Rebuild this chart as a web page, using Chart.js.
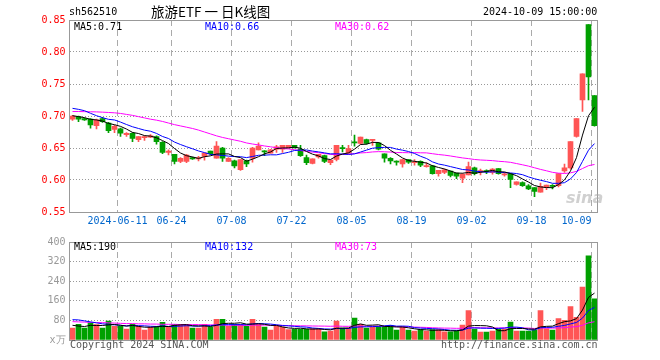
<!DOCTYPE html>
<html><head><meta charset="utf-8">
<script src="https://cdn.jsdelivr.net/npm/chart.js@4.4.1/dist/chart.umd.min.js"></script>
<style>
html,body{margin:0;padding:0;background:#fff;}
#wrap{position:relative;width:660px;height:360px;overflow:hidden;background:#fff;}
canvas{position:absolute;left:0;}
.t{position:absolute;font-family:'DejaVu Sans Mono',monospace;font-size:10px;line-height:12px;white-space:pre;}
</style></head><body>
<div id="wrap">
<canvas id="pc" width="660" height="232" style="top:0"></canvas>
<canvas id="vc" width="660" height="128" style="top:232px"></canvas>
<span class="t" style="left:69px;top:6px;color:#000">sh562510</span>
<span class="t" style="left:151px;top:3px;font-family:'Noto Sans CJK SC',sans-serif;font-size:13.5px;line-height:17px;color:#000">旅游ETF 一 日K线图</span>
<span class="t" style="left:483px;top:6px;color:#000">2024-10-09 15:00:00</span>
<span class="t" id="l1" style="left:74px;top:21px;color:#000"></span>
<span class="t" id="l2" style="left:205px;top:21px;color:#0000ff"></span>
<span class="t" id="l3" style="left:335px;top:21px;color:#ff00ff"></span>
<span class="t" id="v1" style="left:74px;top:241px;color:#000"></span>
<span class="t" id="v2" style="left:205px;top:241px;color:#0000ff"></span>
<span class="t" id="v3" style="left:335px;top:241px;color:#ff00ff"></span>
<span class="t" style="left:566px;top:189px;font-family:'DejaVu Sans',sans-serif;font-style:italic;font-weight:bold;font-size:16px;line-height:18px;color:rgba(170,170,170,0.55)">sina</span>
<span class="t" style="left:70px;top:339px;color:#555">Copyright 2024 SINA.COM</span>
<span class="t" style="left:441px;top:339px;color:#555">http://finance.sina.com.cn</span>
</div>
<script>
const dates=['2024-05-29','2024-05-30','2024-05-31','2024-06-03','2024-06-04','2024-06-05','2024-06-06','2024-06-07','2024-06-11','2024-06-12','2024-06-13','2024-06-14','2024-06-17','2024-06-18','2024-06-19','2024-06-20','2024-06-21','2024-06-24','2024-06-25','2024-06-26','2024-06-27','2024-06-28','2024-07-01','2024-07-02','2024-07-03','2024-07-04','2024-07-05','2024-07-08','2024-07-09','2024-07-10','2024-07-11','2024-07-12','2024-07-15','2024-07-16','2024-07-17','2024-07-18','2024-07-19','2024-07-22','2024-07-23','2024-07-24','2024-07-25','2024-07-26','2024-07-29','2024-07-30','2024-07-31','2024-08-01','2024-08-02','2024-08-05','2024-08-06','2024-08-07','2024-08-08','2024-08-09','2024-08-12','2024-08-13','2024-08-14','2024-08-15','2024-08-16','2024-08-19','2024-08-20','2024-08-21','2024-08-22','2024-08-23','2024-08-26','2024-08-27','2024-08-28','2024-08-29','2024-08-30','2024-09-02','2024-09-03','2024-09-04','2024-09-05','2024-09-06','2024-09-09','2024-09-10','2024-09-11','2024-09-12','2024-09-13','2024-09-18','2024-09-19','2024-09-20','2024-09-23','2024-09-24','2024-09-25','2024-09-26','2024-09-27','2024-09-30','2024-10-08','2024-10-09'];
const open=[.695,.699,.696,.695,.685,.696,.689,.679,.680,.671,.673,.663,.666,.667,.668,.659,.643,.640,.629,.629,.635,.633,.637,.645,.634,.650,.629,.630,.616,.630,.634,.647,.645,.642,.648,.648,.650,.654,.648,.635,.626,.636,.638,.627,.632,.650,.642,.659,.657,.663,.662,.658,.641,.634,.629,.625,.632,.627,.629,.621,.622,.610,.612,.614,.611,.603,.608,.619,.613,.614,.612,.618,.608,.610,.593,.596,.591,.588,.581,.588,.591,.591,.614,.619,.668,.725,.843,.732];
const high=[.701,.700,.697,.696,.695,.698,.690,.686,.681,.674,.674,.668,.669,.671,.669,.660,.647,.640,.635,.640,.636,.637,.642,.645,.660,.651,.635,.631,.632,.631,.651,.658,.646,.648,.654,.654,.654,.654,.654,.639,.633,.640,.639,.631,.654,.654,.654,.670,.667,.664,.663,.659,.641,.635,.630,.632,.632,.632,.630,.627,.623,.615,.617,.614,.611,.610,.628,.620,.617,.616,.618,.618,.612,.610,.597,.597,.593,.588,.595,.592,.593,.610,.625,.660,.696,.766,.843,.732];
const low=[.693,.691,.693,.681,.680,.690,.674,.674,.668,.668,.660,.660,.662,.666,.656,.641,.639,.625,.627,.627,.632,.630,.631,.639,.634,.629,.629,.619,.615,.621,.628,.647,.638,.642,.643,.643,.650,.650,.637,.624,.625,.634,.627,.624,.630,.644,.642,.653,.656,.656,.654,.647,.628,.625,.623,.620,.626,.623,.621,.620,.609,.606,.610,.605,.602,.596,.608,.608,.608,.610,.609,.609,.606,.588,.592,.590,.585,.574,.581,.585,.586,.589,.612,.617,.667,.707,.725,.684];
const close=[.700,.695,.694,.686,.694,.691,.677,.684,.673,.673,.665,.668,.668,.669,.660,.643,.645,.629,.634,.639,.633,.634,.642,.641,.653,.634,.634,.622,.632,.625,.650,.653,.644,.647,.652,.654,.654,.650,.638,.627,.633,.640,.629,.631,.654,.649,.649,.658,.667,.657,.663,.648,.634,.630,.628,.632,.628,.628,.623,.622,.610,.615,.616,.607,.606,.609,.621,.610,.614,.613,.617,.610,.609,.601,.597,.591,.586,.582,.590,.592,.590,.610,.619,.660,.696,.766,.761,.685];
const volume=[49,64,49,71,63,49,77,56,56,45,64,56,41,53,56,72,53,64,64,61,49,49,64,53,84,84,56,64,64,56,84,64,53,41,56,53,43,44,44,44,47,47,33,36,77,49,49,89,64,49,53,56,56,60,40,53,40,36,43,36,43,43,33,33,36,61,120,45,32,32,36,45,45,73,36,36,36,40,120,47,40,87,80,136,93,216,344,168];
// moving-average values for bars before a full window exists
const ma5Head=[.7005,.699,.6974,.6948];
const ma10Head=[.712,.7104,.7083,.7042,.7005,.6974,.6948,.6938,.6905];
const ma30Head=[.707,.707,.7068,.7066,.7064,.706,.7055,.705,.704,.7025,.701,.699,.697,.695,.6935,.6915,.689,.6865,.6845,.6825,.6805,.678,.675,.672,.669,.6665,.6645,.6625,.6605];
const vma5Head=[60,57,55,60];
const vma10Head=[83,82,78,74,70,66,64,62,60];
const vma30Head=[75,74,73,72,71,71,70,69,68,67,67,66,66,65,65,64,64,64,63,63,63,63,62,62,61,61,60,60,60];
const tickIndex=[8,17,27,37,47,57,67,77,87];
const tickLabels=['2024-06-11','06-24','07-08','07-22','08-05','08-19','09-02','09-18','10-09'];
const priceLegend=['MA5:0.71','MA10:0.66','MA30:0.62'];
const volLegend=['MA5:190','MA10:132','MA30:73'];

document.getElementById('l1').textContent=priceLegend[0];
document.getElementById('l2').textContent=priceLegend[1];
document.getElementById('l3').textContent=priceLegend[2];
document.getElementById('v1').textContent=volLegend[0];
document.getElementById('v2').textContent=volLegend[1];
document.getElementById('v3').textContent=volLegend[2];

function ma(src,n,head){return src.map((_,i)=>i<n-1?head[i]:src.slice(i-n+1,i+1).reduce((a,b)=>a+b,0)/n);}
const RED='#ff5555', GREEN='#00a000';
const colors=close.map((c,i)=>c>=open[i]?RED:GREEN);
const tickMap={}; tickIndex.forEach((k,j)=>tickMap[k]=tickLabels[j]);

Chart.defaults.font.family="'DejaVu Sans Mono', monospace";
Chart.defaults.font.size=10;

const frame={id:'frame',afterDraw(chart){const {ctx,chartArea:a}=chart;ctx.save();ctx.strokeStyle='#999';ctx.lineWidth=1;ctx.setLineDash([]);ctx.strokeRect(Math.floor(a.left)+0.5,Math.floor(a.top)+0.5,Math.round(a.right-a.left),Math.round(a.bottom-a.top));ctx.restore();}};
const line=(d,c)=>({type:'line',data:d,borderColor:c,borderWidth:1,pointRadius:0,tension:0,fill:false});
const xGridColor=c=>tickMap[c.index]!==undefined?'#aaa':'rgba(0,0,0,0)';

new Chart(document.getElementById('pc'),{
  data:{labels:dates,datasets:[
    Object.assign(line(ma(close,5,ma5Head),'#000000'),{order:0}),
    Object.assign(line(ma(close,10,ma10Head),'#0000ff'),{order:1}),
    Object.assign(line(ma(close,30,ma30Head),'#ff00ff'),{order:2}),
    {type:'bar',data:open.map((o,i)=>[o,close[i]]),backgroundColor:colors,barThickness:5,grouped:false,minBarLength:1,borderWidth:0,order:3},
    {type:'bar',data:low.map((l,i)=>[l,high[i]]),backgroundColor:colors,barThickness:1,grouped:false,borderWidth:0,order:4}
  ]},
  options:{responsive:false,animation:false,devicePixelRatio:1,
    layout:{autoPadding:false,padding:{left:0,right:62.5,top:20,bottom:0}},
    plugins:{legend:{display:false},tooltip:{enabled:false}},
    scales:{
      x:{type:'category',offset:true,
        grid:{offset:true,color:xGridColor,drawTicks:false,lineWidth:1},
        border:{display:false,dash:[6,4]},
        ticks:{autoSkip:false,maxRotation:0,minRotation:0,labelOffset:-3,align:'inner',padding:3,color:'#0066cc',callback:(v,i)=>tickMap[i]||''},
        afterFit:s=>{s.height=20;}},
      y:{min:0.55,max:0.85,
        ticks:{stepSize:0.05,color:'#ff0000',padding:4,callback:v=>v.toFixed(2)},
        grid:{color:'#999',drawTicks:false},
        border:{display:false,dash:[1,2]},
        afterFit:s=>{s.width=69.5;}}
    }},
  plugins:[frame]
});

new Chart(document.getElementById('vc'),{
  data:{labels:dates,datasets:[
    Object.assign(line(ma(volume,5,vma5Head),'#000000'),{order:0}),
    Object.assign(line(ma(volume,10,vma10Head),'#0000ff'),{order:1}),
    Object.assign(line(ma(volume,30,vma30Head),'#ff00ff'),{order:2}),
    {type:'bar',data:volume,backgroundColor:colors,barThickness:5,grouped:false,borderWidth:0,order:3}
  ]},
  options:{responsive:false,animation:false,devicePixelRatio:1,
    layout:{autoPadding:false,padding:{left:0,right:62.5,top:8,bottom:20}},
    plugins:{legend:{display:false},tooltip:{enabled:false}},
    scales:{
      x:{type:'category',offset:true,
        grid:{offset:true,color:xGridColor,drawTicks:false,lineWidth:1},
        border:{display:false,dash:[6,4]},
        ticks:{display:false},
        afterFit:s=>{s.height=0;}},
      y:{min:0,max:400,
        ticks:{stepSize:80,color:'#999',padding:4,callback:v=>v===0?'x万':String(v)},
        grid:{color:'#999',drawTicks:false},
        border:{display:false,dash:[1,2]},
        afterFit:s=>{s.width=69.5;}}
    }},
  plugins:[frame]
});
</script>
</body></html>
